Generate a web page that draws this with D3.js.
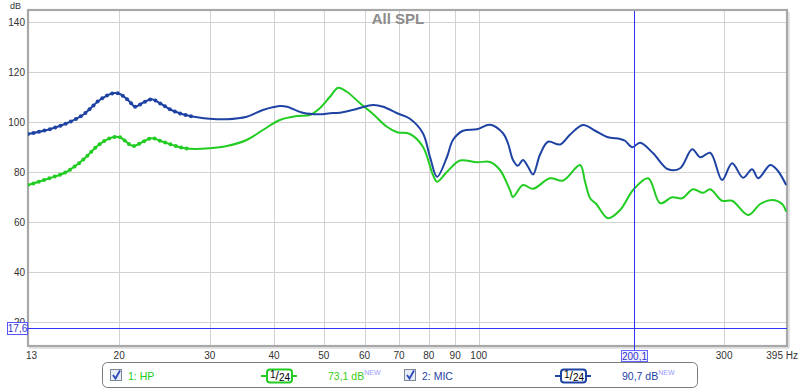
<!DOCTYPE html>
<html lang="en">
    <head>
        <meta charset="utf-8" />
        <title>All SPL</title>
        <script src="https://cdn.jsdelivr.net/npm/d3@7"></script>
        <style type="text/css">
            body { margin: 0; background: #fff; }
            svg { display: block; font-family: "Liberation Sans", Arial, sans-serif; }
        </style>
    </head>
    <body>
        <script type="text/javascript">
            // [Hz, dB]
            var hpCurve = [
                [13.3, 74.8], [14.66, 77.5], [15.82, 80.1], [17.0, 84.8], [18.34, 91.2], [19.44, 93.9],
                [20.06, 93.9], [21.27, 90.4], [22.24, 92.1], [23.15, 93.5], [24.32, 92.1], [26.25, 89.9],
                [27.45, 89.3], [30.0, 89.5], [32.4, 90.4], [35.4, 92.8], [38.06, 96.8], [41.07, 100.8],
                [44.3, 102.4], [47.0, 102.8], [49.1, 105.5], [51.4, 110.1], [53.3, 113.7], [55.4, 112.1],
                [58.8, 107.5], [62.3, 103.2], [66.3, 98.1], [69.4, 95.9], [73.5, 95.2], [77.9, 90.1],
                [81.5, 78.8], [83.0, 76.1], [86.8, 80.1], [92.0, 84.6], [99.2, 83.9], [105.2, 84.0],
                [110.0, 80.8], [115.0, 72.8], [116.6, 70.0], [121.9, 74.8], [127.5, 73.3], [137.6, 77.5],
                [145.9, 76.6], [157.4, 82.8], [161.0, 76.0], [164.7, 69.5], [169.1, 67.3], [178.4, 61.5],
                [188.4, 64.8], [199.6, 72.8], [213.5, 77.5], [225.3, 67.5], [237.6, 69.9], [248.5, 69.5],
                [261.0, 73.1], [273.0, 71.7], [281.9, 73.1], [297.3, 68.5], [310.9, 68.5], [334.0, 62.8],
                [352.7, 67.2], [372.0, 68.8], [388.9, 67.2], [396.0, 64.1]
            ];
            var micCurve = [
                [13.3, 95.2], [14.66, 97.1], [15.82, 99.5], [17.0, 102.8], [18.34, 108.8], [19.44, 111.5],
                [20.06, 111.2], [20.98, 108.1], [21.46, 106.1], [22.24, 107.7], [23.15, 109.1], [24.0, 107.5],
                [25.44, 104.5], [27.45, 102.4], [30.0, 101.3], [32.4, 101.1], [35.4, 102.1], [38.06, 104.8],
                [41.07, 106.4], [42.4, 106.1], [45.5, 103.7], [49.1, 103.1], [51.4, 103.5], [53.7, 103.7],
                [56.9, 104.8], [62.3, 106.8], [65.2, 106.1], [69.4, 103.5], [73.5, 101.3], [77.9, 95.5],
                [80.4, 86.1], [83.0, 78.1], [86.8, 86.1], [89.1, 92.8], [93.2, 96.5], [99.2, 97.1],
                [105.2, 98.9], [111.5, 95.5], [114.0, 91.5], [116.6, 84.8], [119.2, 82.5], [121.9, 84.8],
                [124.7, 82.1], [127.5, 79.0], [131.6, 87.0], [136.4, 92.1], [144.0, 91.0], [150.6, 95.0],
                [159.5, 98.8], [168.4, 96.5], [177.7, 94.0], [188.4, 93.2], [192.6, 92.5], [198.7, 89.9],
                [206.0, 91.7], [218.3, 87.5], [233.4, 81.1], [246.4, 81.5], [260.0, 89.1], [269.6, 85.9],
                [281.9, 87.7], [297.3, 76.8], [310.9, 83.5], [326.6, 77.7], [340.0, 81.1], [349.4, 77.5],
                [368.8, 82.8], [380.4, 80.8], [396.0, 74.8]
            ];
            var yTicks = [20, 40, 60, 80, 100, 120, 140];
            var xGrid = [20, 30, 40, 50, 60, 70, 80, 90, 100, 200, 300];
            var xLabels = [20, 30, 40, 50, 60, 70, 80, 90, 100, 300];
            var markerEnd = 27.6;      // dots drawn up to here
            var cursorHz = 200.1, cursorLabel = "200,1";
            var levelDb = 17.6, levelLabel = "17,6";
            var legendItems = [
                { name: "1: HP", value: "73,1 dB", color: "#22cc22", valColor: "#3ccc14" },
                { name: "2: MIC", value: "90,7 dB", color: "#1f43a3", valColor: "#1f43a3" }
            ];

            var W = 800, H = 390;
            var pL = 28, pR = 787, pT = 11, pB = 346;

            var x = d3.scaleLog().domain([13.3, 397.5]).range([pL, pR]);
            var y = d3.scaleLinear().domain([10.4, 144.4]).range([pB, pT]);

            var svg = d3.select("body").append("svg")
                .attr("width", W).attr("height", H);

            svg.append("defs").append("clipPath").attr("id", "plot")
                .append("rect").attr("x", pL).attr("y", pT)
                .attr("width", pR - pL).attr("height", pB - pT);

            // grid
            var grid = svg.append("g").attr("shape-rendering", "crispEdges");
            grid.selectAll("line.h").data(yTicks).enter().append("line")
                .attr("x1", pL).attr("x2", pR)
                .attr("y1", function (d) { return Math.round(y(d)) + 0.5; })
                .attr("y2", function (d) { return Math.round(y(d)) + 0.5; })
                .attr("stroke", "#d2d2d2");
            grid.selectAll("line.v").data(xGrid).enter().append("line")
                .attr("y1", pT).attr("y2", pB)
                .attr("x1", function (d) { return Math.round(x(d)) + 0.5; })
                .attr("x2", function (d) { return Math.round(x(d)) + 0.5; })
                .attr("stroke", "#d2d2d2");

            // plot frame with a soft shadow on the right / bottom
            svg.append("line").attr("x1", pR + 2).attr("x2", pR + 2).attr("y1", pT + 1).attr("y2", pB + 2)
                .attr("stroke", "#dadada").attr("stroke-width", 1.5);
            svg.append("line").attr("x1", pL + 1).attr("x2", pR + 2).attr("y1", pB + 2).attr("y2", pB + 2)
                .attr("stroke", "#dadada").attr("stroke-width", 1.5);
            svg.append("rect").attr("x", pL).attr("y", pT - 1)
                .attr("width", pR - pL).attr("height", pB - pT + 1)
                .attr("fill", "none").attr("stroke", "#a8a8a8").attr("stroke-width", 2.2);

            // y axis labels
            svg.selectAll("text.ytick").data(yTicks).enter().append("text")
                .attr("x", 25).attr("y", function (d) { return y(d) + 3.5; })
                .attr("text-anchor", "end").attr("font-size", 10).attr("fill", "#333")
                .text(function (d) { return d; });
            svg.append("text").attr("x", 10).attr("y", 9).attr("font-size", 9).attr("fill", "#333").text("dB");

            // x axis labels
            svg.selectAll("text.xtick").data(xLabels).enter().append("text")
                .attr("x", function (d) { return x(d); }).attr("y", 359)
                .attr("text-anchor", "middle").attr("font-size", 10).attr("fill", "#333")
                .text(function (d) { return d; });
            svg.append("text").attr("x", x.range()[0] - 2).attr("y", 359)
                .attr("font-size", 10).attr("fill", "#333").text("13");
            svg.append("text").attr("x", 798).attr("y", 359).attr("text-anchor", "end")
                .attr("font-size", 10).attr("fill", "#333").text("395 Hz");

            // title
            svg.append("text").attr("x", 398).attr("y", 24).attr("text-anchor", "middle")
                .attr("font-size", 15).attr("font-weight", "bold").attr("fill", "#8c8c8c").text("All SPL");

            // curves
            var line = d3.line()
                .x(function (d) { return x(d[0]); })
                .y(function (d) { return y(d[1]); })
                .curve(d3.curveCatmullRom.alpha(0.5));

            var plot = svg.append("g").attr("clip-path", "url(#plot)");
            [[hpCurve, legendItems[0].color], [micCurve, legendItems[1].color]].forEach(function (s) {
                var path = plot.append("path").datum(s[0])
                    .attr("d", line).attr("fill", "none")
                    .attr("stroke", s[1]).attr("stroke-width", 2)
                    .attr("stroke-linejoin", "round");
                // smoothing points at the low end
                var node = path.node(), len = node.getTotalLength(), pts = [];
                for (var l = 0; l < len; l += 5.6) {
                    var p = node.getPointAtLength(l);
                    if (p.x > x(markerEnd)) break;
                    pts.push(p);
                }
                plot.selectAll(null).data(pts).enter().append("circle")
                    .attr("cx", function (d) { return d.x; }).attr("cy", function (d) { return d.y; })
                    .attr("r", 2).attr("fill", s[1]);
            });

            // cursors
            var cx = Math.round(x(cursorHz)) + 0.5;
            svg.append("line").attr("x1", cx).attr("x2", cx).attr("y1", pT).attr("y2", 351)
                .attr("stroke", "#3333ff").attr("stroke-width", 1);
            var ly = Math.round(y(levelDb)) + 0.5;
            svg.append("line").attr("x1", pL).attr("x2", pR).attr("y1", ly).attr("y2", ly)
                .attr("stroke", "#3333ff").attr("stroke-width", 1);

            svg.append("rect").attr("x", cx - 13).attr("y", 350.5).attr("width", 26).attr("height", 11)
                .attr("fill", "#f2f2ff").attr("stroke", "#6666ff");
            svg.append("text").attr("x", cx).attr("y", 359.5).attr("text-anchor", "middle")
                .attr("font-size", 10).attr("fill", "#3333cc").text(cursorLabel);
            svg.append("rect").attr("x", 7.5).attr("y", ly - 6).attr("width", 20).attr("height", 12)
                .attr("fill", "#fff").attr("stroke", "#5555ff");
            svg.append("text").attr("x", 17.5).attr("y", ly + 3.5).attr("text-anchor", "middle")
                .attr("font-size", 10).attr("fill", "#3333cc").text(levelLabel);

            // legend
            var lg = svg.append("g");
            lg.append("rect").attr("x", 102.5).attr("y", 362.5).attr("width", 595).attr("height", 25)
                .attr("rx", 5).attr("fill", "#fff").attr("stroke", "#7a7a7a");

            var legendX = [110, 404];
            var blocks = lg.selectAll("g.item").data(legendItems).enter().append("g")
                .attr("transform", function (d, i) { return "translate(" + legendX[i] + ",0)"; });

            blocks.append("rect").attr("x", 0.5).attr("y", 369.5).attr("width", 11).attr("height", 11)
                .attr("fill", "#e6ecf4").attr("stroke", "#7d8797");
            blocks.append("path").attr("d", "M3,375 L5.5,378.5 L10,370.5")
                .attr("fill", "none").attr("stroke", "#2b4ab8").attr("stroke-width", 1.8);
            blocks.append("text").attr("x", 18).attr("y", 380).attr("font-size", 10.5)
                .attr("fill", function (d) { return d.color; }).text(function (d) { return d.name; });

            // 1/24 smoothing badge
            blocks.append("line").attr("x1", 151).attr("x2", 187).attr("y1", 376).attr("y2", 376)
                .attr("stroke", function (d) { return d.color; }).attr("stroke-width", 2);
            blocks.append("rect").attr("x", 157).attr("y", 369.5).attr("width", 25).attr("height", 13).attr("rx", 3)
                .attr("fill", "#fff").attr("stroke", function (d) { return d.color; }).attr("stroke-width", 2);
            var frac = blocks.append("text").attr("x", 160).attr("y", 380).attr("font-size", 10).attr("fill", "#000");
            frac.append("tspan").attr("dy", -2).text("1");
            frac.append("tspan").attr("dy", 2).attr("font-size", 12).text("/");
            frac.append("tspan").attr("dy", 1).text("24");

            var val = blocks.append("text").attr("x", 218).attr("y", 380).attr("font-size", 10.5)
                .attr("fill", function (d) { return d.valColor; });
            val.append("tspan").text(function (d) { return d.value; });
            val.append("tspan").attr("dy", -5).attr("font-size", 7).attr("fill", "#9a9aff").text("NEW");
        </script>
    </body>
</html>
